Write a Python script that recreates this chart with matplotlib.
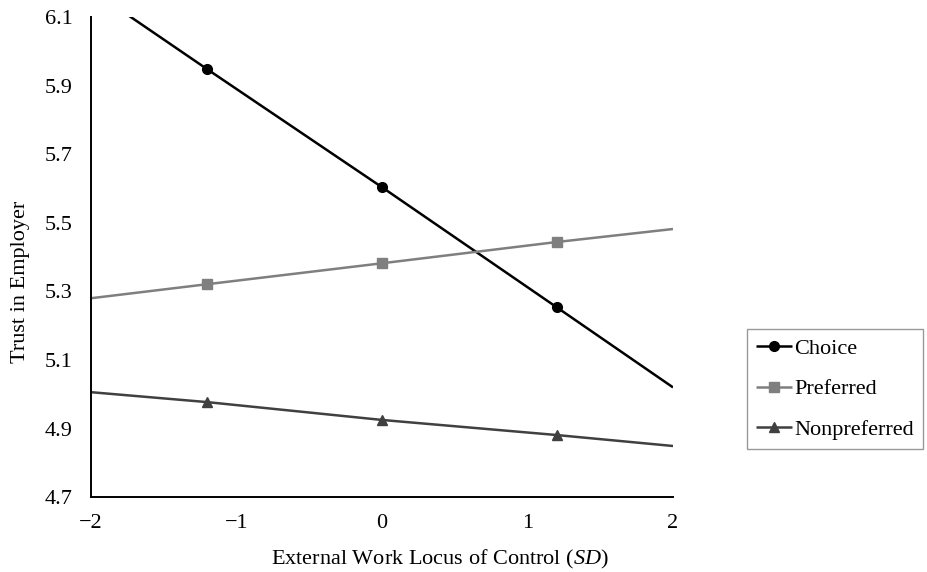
import matplotlib
matplotlib.use("Agg")
import matplotlib.pyplot as plt

# ---------- data ----------
x_vals = [-2, -1.2, 0, 1.2, 2]
choice = [6.18, 5.948, 5.604, 5.254, 5.02]
preferred = [5.28, 5.321, 5.382, 5.444, 5.482]
nonpreferred = [5.006, 4.977, 4.925, 4.881, 4.849]

series_names = ["Choice", "Preferred", "Nonpreferred"]
x_ticks = [-2, -1, 0, 1, 2]
y_ticks = [4.7, 4.9, 5.1, 5.3, 5.5, 5.7, 5.9, 6.1]

plt.rcParams["font.family"] = ["Liberation Serif", "DejaVu Serif"]
plt.rcParams["mathtext.fontset"] = "custom"
plt.rcParams["mathtext.rm"] = "Liberation Serif"
plt.rcParams["mathtext.it"] = "Liberation Serif:italic"

FS = 16

fig = plt.figure(figsize=(9.27, 5.72), dpi=100)
ax = fig.add_axes([0.098, 0.131, 0.628, 0.839])

styles = [
    dict(color="#000000", marker="o", markersize=7),
    dict(color="#7f7f7f", marker="s", markersize=7),
    dict(color="#404040", marker="^", markersize=7),
]
for name, vals, st in zip(series_names, [choice, preferred, nonpreferred], styles):
    ax.plot(x_vals, vals, lw=1.8, markevery=[1, 2, 3], label=name,
            solid_capstyle="butt", **st)

ax.set_xlim(-2, 2)
ax.set_ylim(4.7, 6.1)
ax.set_xticks(x_ticks)
ax.set_xticklabels(["\u22122", "\u22121", "0", "1", "2"])
ax.set_yticks(y_ticks)
ax.set_yticklabels([f"{v:.1f}" for v in y_ticks])
ax.tick_params(axis="x", length=0, labelsize=FS, pad=12)
ax.tick_params(axis="y", length=0, labelsize=FS, pad=13)

for side in ["top", "right"]:
    ax.spines[side].set_visible(False)
for side in ["left", "bottom"]:
    ax.spines[side].set_linewidth(1.4)
    ax.spines[side].set_color("#000000")

ax.set_xlabel("External Work Locus of Control ($\\mathit{SD}$)", fontsize=FS)
ax.set_ylabel("Trust in Employer", fontsize=FS)
ax.xaxis.set_label_coords(0.60, -0.106)
ax.yaxis.set_label_coords(-0.105, 0.448)

leg = fig.legend(loc="upper left", bbox_to_anchor=(0.806, 0.425), fontsize=FS,
                 frameon=True, fancybox=False, handlelength=1.6, handletextpad=0.1,
                 labelspacing=0.9, borderpad=0.42, borderaxespad=0)
leg.get_frame().set_edgecolor("#808080")
leg.get_frame().set_linewidth(1.0)

fig.savefig("out.png", dpi=100)
